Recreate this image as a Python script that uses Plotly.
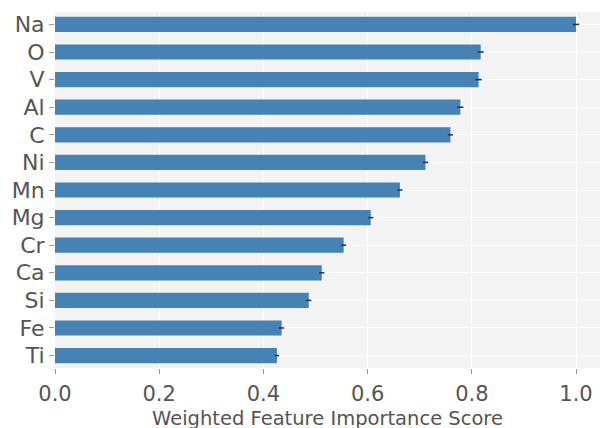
import plotly.graph_objects as go

# Element feature importances (top to bottom)
elements = ["Na", "O", "V", "Al", "C", "Ni", "Mn", "Mg", "Cr", "Ca", "Si", "Fe", "Ti"]
importance = [1.000, 0.817, 0.813, 0.778, 0.759, 0.711, 0.662, 0.606, 0.554, 0.512, 0.487, 0.435, 0.426]
importance_err = [0.006, 0.006, 0.006, 0.006, 0.005, 0.005, 0.005, 0.005, 0.005, 0.005, 0.005, 0.005, 0.004]
x_ticks = [0.0, 0.2, 0.4, 0.6, 0.8, 1.0]
x_tick_labels = ["0.0", "0.2", "0.4", "0.6", "0.8", "1.0"]
x_title = "Weighted Feature Importance Score"

fig = go.Figure(
    go.Bar(
        x=importance,
        y=elements,
        orientation="h",
        width=0.55,
        marker=dict(color="#4682b4", line=dict(width=0)),
        error_x=dict(type="data", array=importance_err, color="#333333",
                     thickness=1.5, width=0),
    )
)

fig.update_layout(
    width=600,
    height=428,
    margin=dict(l=55, r=0, t=12, b=60),
    paper_bgcolor="white",
    plot_bgcolor="#f3f3f3",
    font=dict(family="DejaVu Sans", color="#555555"),
    showlegend=False,
    bargap=0.45,
)

# axis title drawn as an annotation just below the tick labels
fig.add_annotation(
    text=x_title,
    xref="paper", yref="paper",
    x=0.5, y=-0.141,
    xanchor="center", yanchor="middle",
    showarrow=False,
    font=dict(size=19.5, color="#555555"),
)

fig.update_xaxes(
    range=[0, 1.046],
    tickvals=x_ticks,
    ticktext=x_tick_labels,
    tickfont=dict(size=21, color="#555555"),
    ticks="outside",
    ticklen=5,
    tickcolor="#999999",
    ticklabelstandoff=2,
    showgrid=True,
    gridcolor="white",
    gridwidth=1,
    zeroline=False,
    showline=False,
)

fig.update_yaxes(
    type="category",
    categoryorder="array",
    categoryarray=elements,
    range=[12.45, -0.45],
    tickfont=dict(size=22, color="#555555"),
    ticks="outside",
    ticklen=5,
    tickcolor="#999999",
    showgrid=True,
    gridcolor="white",
    gridwidth=1,
    zeroline=False,
    showline=False,
)

fig.write_html("out.html")
